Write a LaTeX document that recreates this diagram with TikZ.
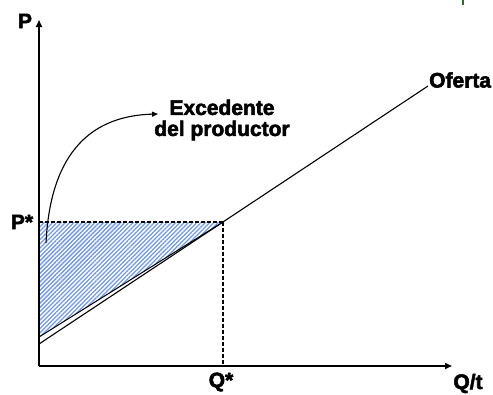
\documentclass[tikz,border=0pt]{standalone}
\usepackage{fontspec}
\setmainfont{Liberation Sans}[BoldFeatures={FakeBold=2.5}]
\usetikzlibrary{arrows.meta,patterns.meta}
\definecolor{hatch}{RGB}{110,150,240}
\definecolor{markgreen}{RGB}{40,110,40}
\tikzset{
  axis/.style={line width=1.6pt,-{Triangle[length=7pt,width=6pt]}},
  supply/.style={line width=1.1pt},
  guide/.style={line width=1.4pt,dash pattern=on 4pt off 2pt},
  lbl/.style={font=\fontsize{21}{21}\selectfont\bfseries,inner sep=0pt},
  curved/.style={line width=1.1pt,-{Triangle[length=6pt,width=5pt]}}
}
\begin{document}
\begin{tikzpicture}[x=1pt,y=-1pt]
\useasboundingbox (0,0) rectangle (493,394);
% coordinates
\coordinate (O) at (39,366);
\coordinate (Ytop) at (39,20);
\coordinate (Xend) at (452,366);
\coordinate (E) at (223,222);
\coordinate (Pstar) at (39,222);
\coordinate (Qstar) at (223,366);
\coordinate (S0) at (39,344);
\coordinate (T0) at (39,337);
\coordinate (S1) at (428,86);
% shaded producer surplus
\fill[pattern={Lines[angle=45,distance=3pt,line width=1.3pt]},pattern color=hatch] (Pstar) -- (E) -- (T0) -- cycle;
\draw[line width=1pt] (T0) -- (E);
\draw[line width=2.2pt] (Pstar) -- (T0);
% guides
\draw[guide] (Pstar) -- (E);
\draw[guide] (E) -- (Qstar);
% supply
\draw[supply] (S0) -- (S1);
% axes
\draw[axis] (O) -- (Ytop);
\draw[axis] (O) -- (Xend);
% labels
\node[lbl] (P) at (25,21) {P};
\node[lbl] (Pst) at (22,222) {P*};
\node[lbl] (Qst) at (221,382) {Q*};
\node[lbl,anchor=west] (of) at (429,80) {Oferta};
\node[lbl,anchor=base] (qt) at (468,389) {Q/t};
\node[lbl,align=center] (exc) at (222,120) {Excedente\\del productor};
% curved arrow
\coordinate (cstart) at (46,243);
\coordinate (ctip) at (158,114);
\draw[curved] (cstart) .. controls (50,160) and (85,116) .. (ctip);
% stray mark
\draw[markgreen,line width=1.5pt] (463,0) -- (463,5);
\end{tikzpicture}
\end{document}
